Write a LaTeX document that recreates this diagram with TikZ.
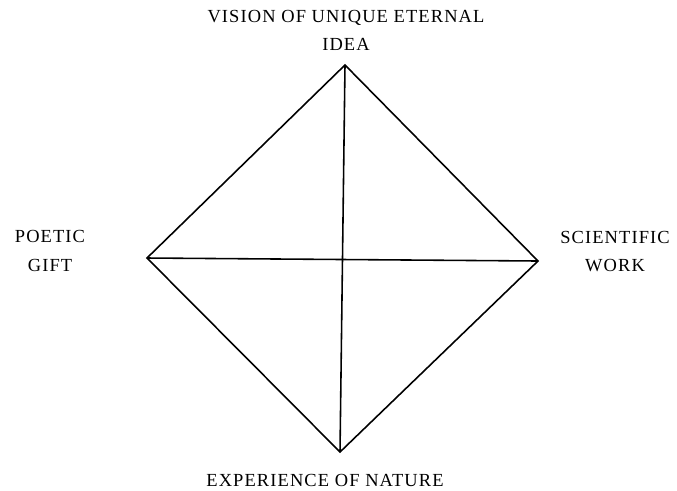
\documentclass[tikz,border=0pt]{standalone}
\usepackage{fontspec}
\setmainfont[LetterSpace=6]{Liberation Serif}
\usetikzlibrary{positioning}

\begin{document}
\begin{tikzpicture}[
  etichetta/.style={align=center, inner sep=0pt,
                    font=\fontsize{10.5pt}{16pt}\selectfont},
  lato/.style={draw=black, line width=0.9pt}
]
\useasboundingbox (0,0) rectangle (13.54,-9.8);

% vertici del rombo
\coordinate (A) at (6.9,-1.3);
\coordinate (D) at (10.76,-5.22);
\coordinate (B) at (6.8,-9.04);
\coordinate (S) at (2.94,-5.16);

\draw[lato] (A) -- (D) -- (B) -- (S) -- cycle;
\draw[lato] (A) -- (B);
\draw[lato] (S) -- (D);

% testi
\node[etichetta] (idea)  at (6.92,-0.6) {VISION OF UNIQUE ETERNAL\\IDEA};
\node[etichetta] (poesia) at (1.0,-5.02) {POETIC\\GIFT};
\node[etichetta] (scienza) at (12.3,-5.03) {SCIENTIFIC\\WORK};
\node[etichetta] (natura) at (6.5,-9.6) {EXPERIENCE OF NATURE};

\end{tikzpicture}
\end{document}
